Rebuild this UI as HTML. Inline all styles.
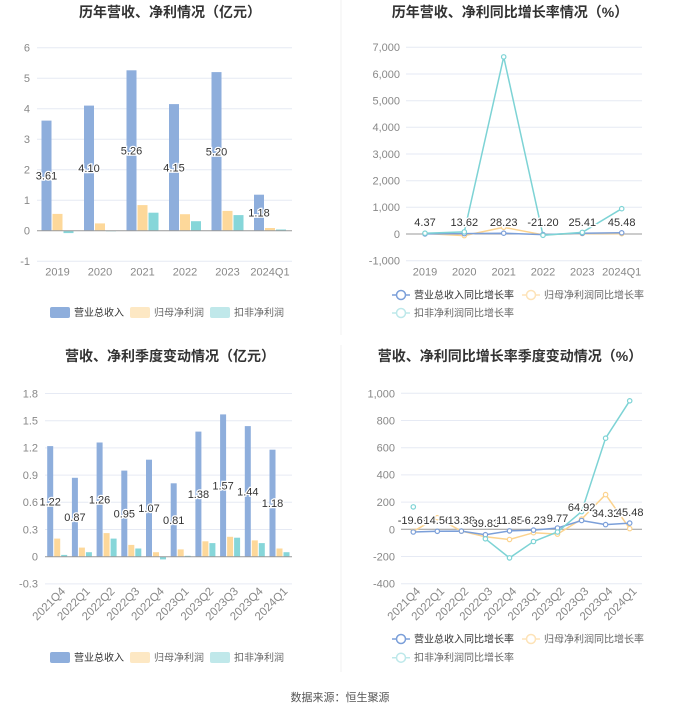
<!DOCTYPE html>
<html><head><meta charset="utf-8"><style>
body{margin:0;background:#fff}
svg{display:block;font-family:"Liberation Sans","Noto Sans CJK SC",sans-serif}
.t{font-size:14px;font-weight:bold;fill:#333;text-anchor:middle}
.yl{font-size:11px;fill:#888;text-anchor:end}
.xl{font-size:11px;fill:#888;text-anchor:middle}
.rl{font-size:11.5px;fill:#888;text-anchor:end}
.g{stroke:#e6eaf4;stroke-width:1}
.ax{stroke:#999;stroke-width:1}
.lb{font-size:11px;fill:#333;text-anchor:middle;stroke:#fff;stroke-width:2.5px;paint-order:stroke}
.lg{font-size:10px;fill:#666}
.b{fill:#8eaedc}.o{fill:#fdd89a}.c{fill:#86d6d9}
</style></head><body>
<svg width="680" height="712" viewBox="0 0 680 712">
<line x1="341" y1="0" x2="341" y2="335" stroke="#f0f0f0"/>
<line x1="341" y1="345" x2="341" y2="672" stroke="#f0f0f0"/>
<text class="t" x="170" y="17">历年营收、净利情况（亿元）</text>
<text class="t" x="510" y="17">历年营收、净利同比增长率情况（%）</text>
<text class="t" x="170" y="361">营收、净利季度变动情况（亿元）</text>
<text class="t" x="510" y="361">营收、净利同比增长率季度变动情况（%）</text>

<!-- Chart 1 -->
<g>
<line class="g" x1="37" x2="292" y1="47.7" y2="47.7"/><line class="g" x1="37" x2="292" y1="78.2" y2="78.2"/><line class="g" x1="37" x2="292" y1="108.7" y2="108.7"/><line class="g" x1="37" x2="292" y1="139.2" y2="139.2"/><line class="g" x1="37" x2="292" y1="169.7" y2="169.7"/><line class="g" x1="37" x2="292" y1="200.2" y2="200.2"/><line class="g" x1="37" x2="292" y1="261.2" y2="261.2"/>
<text class="yl" x="30" y="51.5">6</text><text class="yl" x="30" y="82">5</text><text class="yl" x="30" y="112.5">4</text><text class="yl" x="30" y="143">3</text><text class="yl" x="30" y="173.5">2</text><text class="yl" x="30" y="204">1</text><text class="yl" x="30" y="234.5">0</text><text class="yl" x="30" y="265">-1</text>
<rect class="b" x="41.5" y="120.6" width="10" height="110.1"/><rect class="o" x="52.5" y="213.9" width="10" height="16.8"/><rect class="c" x="63.5" y="230.7" width="10" height="2.4"/>
<rect class="b" x="84" y="105.6" width="10" height="125.1"/><rect class="o" x="95" y="223.4" width="10" height="7.3"/><rect class="c" x="106" y="230.7" width="10" height="0.6"/>
<rect class="b" x="126.5" y="70.3" width="10" height="160.4"/><rect class="o" x="137.5" y="205.1" width="10" height="25.6"/><rect class="c" x="148.5" y="212.7" width="10" height="18"/>
<rect class="b" x="169" y="104.1" width="10" height="126.6"/><rect class="o" x="180" y="214.2" width="10" height="16.5"/><rect class="c" x="191" y="221.2" width="10" height="9.5"/>
<rect class="b" x="211.5" y="72.1" width="10" height="158.6"/><rect class="o" x="222.5" y="210.9" width="10" height="19.8"/><rect class="c" x="233.5" y="215.1" width="10" height="15.6"/>
<rect class="b" x="254" y="194.7" width="10" height="36"/><rect class="o" x="265" y="228" width="10" height="2.7"/><rect class="c" x="276" y="229.5" width="10" height="1.2"/>
<line class="ax" x1="37" x2="292" y1="230.7" y2="230.7"/>
<text class="lb" x="46.5" y="179.5">3.61</text><text class="lb" x="89" y="172">4.10</text><text class="lb" x="131.5" y="154.5">5.26</text><text class="lb" x="174" y="171.5">4.15</text><text class="lb" x="216.5" y="155.5">5.20</text><text class="lb" x="259" y="216.5">1.18</text>
<text class="xl" x="57.5" y="275.5">2019</text><text class="xl" x="100" y="275.5">2020</text><text class="xl" x="142.5" y="275.5">2021</text><text class="xl" x="185" y="275.5">2022</text><text class="xl" x="227.5" y="275.5">2023</text><text class="xl" x="270" y="275.5">2024Q1</text>
<rect x="50" y="307" width="20" height="11" rx="2" class="b"/><text class="lg" x="74" y="316" style="fill:#333">营业总收入</text>
<rect x="130" y="307" width="20" height="11" rx="2" fill="#fde8c4"/><text class="lg" x="154" y="316">归母净利润</text>
<rect x="210" y="307" width="20" height="11" rx="2" fill="#c0e8ea"/><text class="lg" x="234" y="316">扣非净利润</text>
</g>

<!-- Chart 2 -->
<g>
<line class="g" x1="406" x2="642" y1="47.3" y2="47.3"/><line class="g" x1="406" x2="642" y1="74" y2="74"/><line class="g" x1="406" x2="642" y1="100.7" y2="100.7"/><line class="g" x1="406" x2="642" y1="127.3" y2="127.3"/><line class="g" x1="406" x2="642" y1="154" y2="154"/><line class="g" x1="406" x2="642" y1="180.7" y2="180.7"/><line class="g" x1="406" x2="642" y1="207.3" y2="207.3"/><line class="g" x1="406" x2="642" y1="260.7" y2="260.7"/>
<text class="yl" x="400" y="51">7,000</text><text class="yl" x="400" y="78">6,000</text><text class="yl" x="400" y="104.5">5,000</text><text class="yl" x="400" y="131">4,000</text><text class="yl" x="400" y="158">3,000</text><text class="yl" x="400" y="184.5">2,000</text><text class="yl" x="400" y="211">1,000</text><text class="yl" x="400" y="238">0</text><text class="yl" x="400" y="264.5">-1,000</text>
<line class="ax" x1="406" x2="642" y1="234" y2="234"/>
<polyline fill="none" stroke="#fcd38e" stroke-width="1.5" points="425,233.5 464.3,235.6 503.7,227.3 543,234.8 582.3,233.5 621.7,233.7"/>
<polyline fill="none" stroke="#7b9fd9" stroke-width="1.5" points="425,233.9 464.3,233.6 503.7,233.2 543,234.6 582.3,233.3 621.7,232.8"/>
<polyline fill="none" stroke="#7dd3d5" stroke-width="1.5" points="425,233.2 464.3,231.9 503.7,56.9 543,235.3 582.3,232.4 621.7,208.7"/>
<g fill="#fff" stroke-width="1.2">
<g stroke="#fcd38e"><circle cx="425" cy="233.5" r="2.2"/><circle cx="464.3" cy="235.6" r="2.2"/><circle cx="503.7" cy="227.3" r="2.2"/><circle cx="543" cy="234.8" r="2.2"/><circle cx="582.3" cy="233.5" r="2.2"/><circle cx="621.7" cy="233.7" r="2.2"/></g>
<g stroke="#7b9fd9"><circle cx="425" cy="233.9" r="2.2"/><circle cx="464.3" cy="233.6" r="2.2"/><circle cx="503.7" cy="233.2" r="2.2"/><circle cx="543" cy="234.6" r="2.2"/><circle cx="582.3" cy="233.3" r="2.2"/><circle cx="621.7" cy="232.8" r="2.2"/></g>
<g stroke="#7dd3d5"><circle cx="425" cy="233.2" r="2.2"/><circle cx="464.3" cy="231.9" r="2.2"/><circle cx="503.7" cy="56.9" r="2.2"/><circle cx="543" cy="235.3" r="2.2"/><circle cx="582.3" cy="232.4" r="2.2"/><circle cx="621.7" cy="208.7" r="2.2"/></g>
</g>
<text class="lb" x="425" y="226">4.37</text><text class="lb" x="464.3" y="226">13.62</text><text class="lb" x="503.7" y="226">28.23</text><text class="lb" x="543" y="226">-21.20</text><text class="lb" x="582.3" y="226">25.41</text><text class="lb" x="621.7" y="226">45.48</text>
<text class="xl" x="425" y="275.5">2019</text><text class="xl" x="464.3" y="275.5">2020</text><text class="xl" x="503.7" y="275.5">2021</text><text class="xl" x="543" y="275.5">2022</text><text class="xl" x="582.3" y="275.5">2023</text><text class="xl" x="621.7" y="275.5">2024Q1</text>
<line x1="392" x2="410" y1="295" y2="295" stroke="#7b9fd9" stroke-width="1.5"/><circle cx="401" cy="295" r="4.5" fill="#fff" stroke="#7b9fd9" stroke-width="1.5"/><text class="lg" x="414" y="298.5" style="fill:#333">营业总收入同比增长率</text>
<line x1="522" x2="540" y1="295" y2="295" stroke="#fde3b8" stroke-width="1.5"/><circle cx="531" cy="295" r="4.5" fill="#fff" stroke="#fde3b8" stroke-width="1.5"/><text class="lg" x="544" y="298.5">归母净利润同比增长率</text>
<line x1="392" x2="410" y1="313" y2="313" stroke="#bde8ea" stroke-width="1.5"/><circle cx="401" cy="313" r="4.5" fill="#fff" stroke="#bde8ea" stroke-width="1.5"/><text class="lg" x="414" y="316.5">扣非净利润同比增长率</text>
</g>

<!-- Chart 3 -->
<g>
<line class="g" x1="45" x2="292" y1="393.5" y2="393.5"/><line class="g" x1="45" x2="292" y1="420.7" y2="420.7"/><line class="g" x1="45" x2="292" y1="447.9" y2="447.9"/><line class="g" x1="45" x2="292" y1="475.1" y2="475.1"/><line class="g" x1="45" x2="292" y1="502.3" y2="502.3"/><line class="g" x1="45" x2="292" y1="529.5" y2="529.5"/><line class="g" x1="45" x2="292" y1="583.9" y2="583.9"/>
<text class="yl" x="38" y="397.5">1.8</text><text class="yl" x="38" y="424.5">1.5</text><text class="yl" x="38" y="451.5">1.2</text><text class="yl" x="38" y="479">0.9</text><text class="yl" x="38" y="506">0.6</text><text class="yl" x="38" y="533.5">0.3</text><text class="yl" x="38" y="560.5">0</text><text class="yl" x="38" y="587.5">-0.3</text>
<rect class="b" x="47.2" y="446.1" width="6" height="110.6"/><rect class="o" x="54.2" y="538.6" width="6" height="18.1"/><rect class="c" x="61.2" y="554.9" width="6" height="1.8"/>
<rect class="b" x="71.9" y="477.8" width="6" height="78.9"/><rect class="o" x="78.9" y="547.6" width="6" height="9.1"/><rect class="c" x="85.9" y="552.2" width="6" height="4.5"/>
<rect class="b" x="96.6" y="442.5" width="6" height="114.2"/><rect class="o" x="103.6" y="533.1" width="6" height="23.6"/><rect class="c" x="110.6" y="538.6" width="6" height="18.1"/>
<rect class="b" x="121.3" y="470.6" width="6" height="86.1"/><rect class="o" x="128.3" y="544.9" width="6" height="11.8"/><rect class="c" x="135.3" y="548.5" width="6" height="8.2"/>
<rect class="b" x="146" y="459.7" width="6" height="97"/><rect class="o" x="153" y="552.2" width="6" height="4.5"/><rect class="c" x="160" y="556.7" width="6" height="2.7"/>
<rect class="b" x="170.7" y="483.3" width="6" height="73.4"/><rect class="o" x="177.7" y="549.4" width="6" height="7.3"/><rect class="c" x="184.7" y="555.8" width="6" height="0.9"/>
<rect class="b" x="195.4" y="431.6" width="6" height="125.1"/><rect class="o" x="202.4" y="541.3" width="6" height="15.4"/><rect class="c" x="209.4" y="543.1" width="6" height="13.6"/>
<rect class="b" x="220.1" y="414.4" width="6" height="142.3"/><rect class="o" x="227.1" y="536.8" width="6" height="19.9"/><rect class="c" x="234.1" y="537.7" width="6" height="19"/>
<rect class="b" x="244.8" y="426.1" width="6" height="130.6"/><rect class="o" x="251.8" y="540.4" width="6" height="16.3"/><rect class="c" x="258.8" y="543.1" width="6" height="13.6"/>
<rect class="b" x="269.5" y="449.7" width="6" height="107"/><rect class="o" x="276.5" y="548.5" width="6" height="8.2"/><rect class="c" x="283.5" y="552.2" width="6" height="4.5"/>
<line class="ax" x1="45" x2="292" y1="556.7" y2="556.7"/>
<text class="lb" x="50.2" y="505.4">1.22</text><text class="lb" x="74.9" y="521.2">0.87</text><text class="lb" x="99.6" y="503.6">1.26</text><text class="lb" x="124.3" y="517.6">0.95</text><text class="lb" x="149" y="512.2">1.07</text><text class="lb" x="173.7" y="524">0.81</text><text class="lb" x="198.4" y="498.1">1.38</text><text class="lb" x="223.1" y="489.5">1.57</text><text class="lb" x="247.8" y="495.4">1.44</text><text class="lb" x="272.5" y="507.2">1.18</text>
<g class="rl">
<text transform="translate(66,592) rotate(-45)">2021Q4</text><text transform="translate(90.7,592) rotate(-45)">2022Q1</text><text transform="translate(115.4,592) rotate(-45)">2022Q2</text><text transform="translate(140.1,592) rotate(-45)">2022Q3</text><text transform="translate(164.8,592) rotate(-45)">2022Q4</text><text transform="translate(189.5,592) rotate(-45)">2023Q1</text><text transform="translate(214.2,592) rotate(-45)">2023Q2</text><text transform="translate(238.9,592) rotate(-45)">2023Q3</text><text transform="translate(263.6,592) rotate(-45)">2023Q4</text><text transform="translate(288.3,592) rotate(-45)">2024Q1</text>
</g>
<rect x="50" y="652" width="20" height="11" rx="2" class="b"/><text class="lg" x="74" y="661" style="fill:#333">营业总收入</text>
<rect x="130" y="652" width="20" height="11" rx="2" fill="#fde8c4"/><text class="lg" x="154" y="661">归母净利润</text>
<rect x="210" y="652" width="20" height="11" rx="2" fill="#c0e8ea"/><text class="lg" x="234" y="661">扣非净利润</text>
</g>

<!-- Chart 4 -->
<g>
<line class="g" x1="401" x2="642" y1="393.3" y2="393.3"/><line class="g" x1="401" x2="642" y1="420.5" y2="420.5"/><line class="g" x1="401" x2="642" y1="447.7" y2="447.7"/><line class="g" x1="401" x2="642" y1="474.9" y2="474.9"/><line class="g" x1="401" x2="642" y1="502.1" y2="502.1"/><line class="g" x1="401" x2="642" y1="556.5" y2="556.5"/><line class="g" x1="401" x2="642" y1="583.7" y2="583.7"/>
<text class="yl" x="395" y="397.5">1,000</text><text class="yl" x="395" y="424.5">800</text><text class="yl" x="395" y="451.5">600</text><text class="yl" x="395" y="478.5">400</text><text class="yl" x="395" y="506">200</text><text class="yl" x="395" y="533.5">0</text><text class="yl" x="395" y="560.5">-200</text><text class="yl" x="395" y="587.5">-400</text>
<line class="ax" x1="401" x2="642" y1="529.3" y2="529.3"/>
<polyline fill="none" stroke="#fcd38e" stroke-width="1.5" points="413.3,531.3 437.3,517.7 461.4,531.1 485.4,536.8 509.5,539.5 533.5,532.7 557.5,534.1 581.6,519.1 605.6,494.6 629.7,528.6"/>
<polyline fill="none" stroke="#7b9fd9" stroke-width="1.5" points="413.3,532 437.3,531.3 461.4,531.1 485.4,534.7 509.5,530.9 533.5,530.1 557.5,528 581.6,520.5 605.6,524.6 629.7,523.1"/>
<polyline fill="none" stroke="#7dd3d5" stroke-width="1.5" points="485.4,538.8 509.5,557.9 533.5,541.5 557.5,532 581.6,511.6 605.6,438.2 629.7,400.8"/>
<g fill="#fff" stroke-width="1.2">
<g stroke="#fcd38e"><circle cx="413.3" cy="531.3" r="2.2"/><circle cx="437.3" cy="517.7" r="2.2"/><circle cx="461.4" cy="531.1" r="2.2"/><circle cx="485.4" cy="536.8" r="2.2"/><circle cx="509.5" cy="539.5" r="2.2"/><circle cx="533.5" cy="532.7" r="2.2"/><circle cx="557.5" cy="534.1" r="2.2"/><circle cx="581.6" cy="519.1" r="2.2"/><circle cx="605.6" cy="494.6" r="2.2"/><circle cx="629.7" cy="528.6" r="2.2"/></g>
<g stroke="#7b9fd9"><circle cx="413.3" cy="532" r="2.2"/><circle cx="437.3" cy="531.3" r="2.2"/><circle cx="461.4" cy="531.1" r="2.2"/><circle cx="485.4" cy="534.7" r="2.2"/><circle cx="509.5" cy="530.9" r="2.2"/><circle cx="533.5" cy="530.1" r="2.2"/><circle cx="557.5" cy="528" r="2.2"/><circle cx="581.6" cy="520.5" r="2.2"/><circle cx="605.6" cy="524.6" r="2.2"/><circle cx="629.7" cy="523.1" r="2.2"/></g>
<g stroke="#7dd3d5"><circle cx="413.3" cy="506.9" r="2.2"/><circle cx="485.4" cy="538.8" r="2.2"/><circle cx="509.5" cy="557.9" r="2.2"/><circle cx="533.5" cy="541.5" r="2.2"/><circle cx="557.5" cy="532" r="2.2"/><circle cx="581.6" cy="511.6" r="2.2"/><circle cx="605.6" cy="438.2" r="2.2"/><circle cx="629.7" cy="400.8" r="2.2"/></g>
</g>
<text class="lb" x="413.3" y="524">-19.69</text><text class="lb" x="437.3" y="524">14.56</text><text class="lb" x="461.4" y="524">13.38</text><text class="lb" x="485.4" y="527">39.83</text><text class="lb" x="509.5" y="524">11.85</text><text class="lb" x="533.5" y="524">-6.23</text><text class="lb" x="557.5" y="522">9.77</text><text class="lb" x="581.6" y="511">64.92</text><text class="lb" x="605.6" y="517">34.32</text><text class="lb" x="629.7" y="516">45.48</text>
<g class="rl">
<text transform="translate(421,592) rotate(-45)">2021Q4</text><text transform="translate(445,592) rotate(-45)">2022Q1</text><text transform="translate(469.1,592) rotate(-45)">2022Q2</text><text transform="translate(493.1,592) rotate(-45)">2022Q3</text><text transform="translate(517.2,592) rotate(-45)">2022Q4</text><text transform="translate(541.2,592) rotate(-45)">2023Q1</text><text transform="translate(565.2,592) rotate(-45)">2023Q2</text><text transform="translate(589.3,592) rotate(-45)">2023Q3</text><text transform="translate(613.3,592) rotate(-45)">2023Q4</text><text transform="translate(637.4,592) rotate(-45)">2024Q1</text>
</g>
<line x1="392" x2="410" y1="639" y2="639" stroke="#7b9fd9" stroke-width="1.5"/><circle cx="401" cy="639" r="4.5" fill="#fff" stroke="#7b9fd9" stroke-width="1.5"/><text class="lg" x="414" y="642.5" style="fill:#333">营业总收入同比增长率</text>
<line x1="522" x2="540" y1="639" y2="639" stroke="#fde3b8" stroke-width="1.5"/><circle cx="531" cy="639" r="4.5" fill="#fff" stroke="#fde3b8" stroke-width="1.5"/><text class="lg" x="544" y="642.5">归母净利润同比增长率</text>
<line x1="392" x2="410" y1="657.7" y2="657.7" stroke="#bde8ea" stroke-width="1.5"/><circle cx="401" cy="657.7" r="4.5" fill="#fff" stroke="#bde8ea" stroke-width="1.5"/><text class="lg" x="414" y="661">扣非净利润同比增长率</text>
</g>

<text x="340" y="701" style="font-size:11px;fill:#555;text-anchor:middle">数据来源：恒生聚源</text>
</svg>
</body></html>
